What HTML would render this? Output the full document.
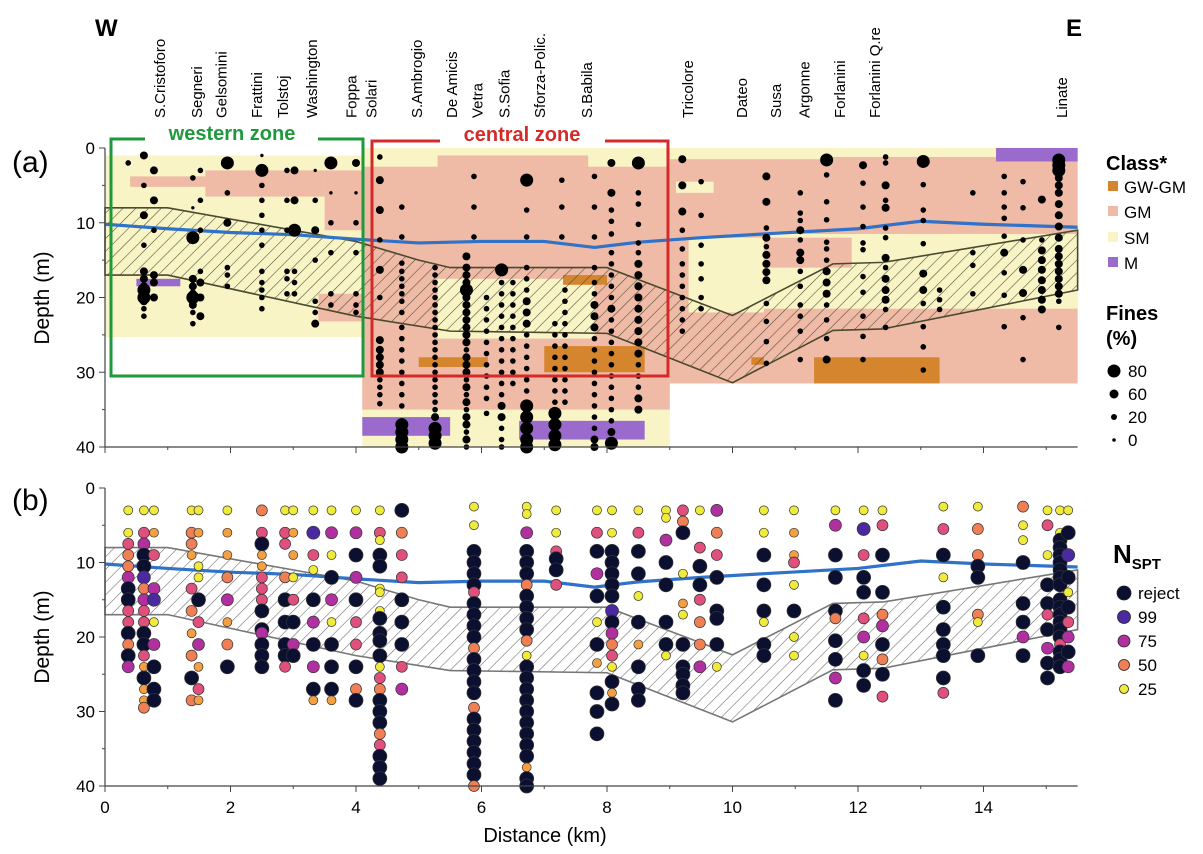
<!DOCTYPE html>
<html><head><meta charset="utf-8"><style>
html,body{margin:0;padding:0;background:#fff}
svg{display:block;font-family:"Liberation Sans",sans-serif}
</style></head><body>
<svg id="fig" width="1203" height="854" viewBox="0 0 1203 854" xmlns="http://www.w3.org/2000/svg">
<defs>
<pattern id="hatchA" patternUnits="userSpaceOnUse" width="9" height="9" patternTransform="rotate(45)"><line x1="0" y1="0" x2="0" y2="9" stroke="#4a4a30" stroke-width="1.1"/></pattern>
<pattern id="hatchB" patternUnits="userSpaceOnUse" width="9" height="9" patternTransform="rotate(45)"><line x1="0" y1="0" x2="0" y2="9" stroke="#666" stroke-width="1.1"/></pattern>
</defs>
<g id="layersA"></g>
<g id="hatchGA"></g>
<g id="wtA"></g>
<g id="ptsA"></g>
<g id="hatchGB"></g>
<g id="wtB"></g>
<g id="ptsB"></g>
<g id="axes"></g>
<g id="stations"></g>

<text x="95" y="36" font-size="24" font-weight="bold">W</text>
<text x="1066" y="36" font-size="24" font-weight="bold">E</text>
<text x="12" y="172" font-size="30">(a)</text>
<text x="12" y="510" font-size="30">(b)</text>
<text transform="translate(49,298) rotate(-90)" text-anchor="middle" font-size="21">Depth (m)</text>
<text transform="translate(49,637) rotate(-90)" text-anchor="middle" font-size="21">Depth (m)</text>
<text x="545" y="842" text-anchor="middle" font-size="20">Distance (km)</text>

<g>
<path d="M145,139 L111,139 L111,376 L363,376 L363,139 L318,139" fill="none" stroke="#1e9a3c" stroke-width="3"/>
<text x="232" y="140" text-anchor="middle" font-size="20" font-weight="bold" fill="#1e9a3c">western zone</text>
</g>
<g>
<path d="M440,141 L372,141 L372,376 L668,376 L668,141 L605,141" fill="none" stroke="#d52a2a" stroke-width="3"/>
<text x="522" y="141" text-anchor="middle" font-size="20" font-weight="bold" fill="#d52a2a">central zone</text>
</g>

<g>
<text x="1106" y="170" font-size="20" font-weight="bold">Class*</text>
<rect x="1108" y="181" width="10" height="10" fill="#d5852d"/><text x="1124" y="193" font-size="17">GW-GM</text>
<rect x="1108" y="206" width="10" height="10" fill="#efbaa6"/><text x="1124" y="218" font-size="17">GM</text>
<rect x="1108" y="232" width="10" height="10" fill="#f8f4c6"/><text x="1124" y="244" font-size="17">SM</text>
<rect x="1108" y="257" width="10" height="10" fill="#9a6bcc"/><text x="1124" y="269" font-size="17">M</text>
<text x="1106" y="320" font-size="20" font-weight="bold">Fines</text>
<text x="1106" y="345" font-size="20" font-weight="bold">(%)</text>
<circle cx="1114" cy="371" r="6.5" fill="#000"/><text x="1128" y="377" font-size="17">80</text>
<circle cx="1114" cy="394" r="4.5" fill="#000"/><text x="1128" y="400" font-size="17">60</text>
<circle cx="1114" cy="417" r="3" fill="#000"/><text x="1128" y="423" font-size="17">20</text>
<circle cx="1114" cy="440" r="1.8" fill="#000"/><text x="1128" y="446" font-size="17">0</text>
</g>
<g>
<text x="1113" y="563" font-size="26" font-weight="bold">N<tspan font-size="15" dy="6">SPT</tspan></text>
<circle cx="1124" cy="593" r="7" fill="#0c1030" stroke="#222" stroke-width="0.8"/><text x="1138" y="599" font-size="17">reject</text>
<circle cx="1124" cy="617" r="6.5" fill="#4b2aa0" stroke="#222" stroke-width="0.8"/><text x="1138" y="623" font-size="17">99</text>
<circle cx="1124" cy="641" r="6" fill="#b0309f" stroke="#222" stroke-width="0.8"/><text x="1138" y="647" font-size="17">75</text>
<circle cx="1124" cy="665" r="5.5" fill="#ef7f55" stroke="#222" stroke-width="0.8"/><text x="1138" y="671" font-size="17">50</text>
<circle cx="1124" cy="689" r="4.5" fill="#f0ea3a" stroke="#222" stroke-width="0.8"/><text x="1138" y="695" font-size="17">25</text>
</g>
</svg>
<script>
const NS="http://www.w3.org/2000/svg";
// ---- data ----
const xTicks=[0,2,4,6,8,10,12,14];
const yTicks=[0,10,20,30,40];
const stationNames=["S.Cristoforo","Segneri","Gelsomini","Frattini","Tolstoj","Washington","Foppa","Solari","S.Ambrogio","De Amicis","Vetra","S.Sofia","Sforza-Polic.","S.Babila","Tricolore","Dateo","Susa","Argonne","Forlanini","Forlanini Q.re","Linate"];
const stationKm=[0.88,1.47,1.86,2.42,2.84,3.3,3.93,4.25,4.97,5.53,5.94,6.37,6.93,7.68,9.29,10.15,10.69,11.15,11.71,12.27,15.25];
const layers=[
[0,4.1,1,25.3,"SM"],[0.4,1.6,3.8,5.2,"GM"],[1.6,3.5,3,6.5,"GM"],[3.5,4.1,3,11,"GM"],[3.4,4.1,19.5,23.2,"GM"],[0.5,1.2,17.5,18.5,"M"],
[4.1,9.0,0,40,"SM"],[4.1,9.0,2.5,35,"GM"],[5.3,7.7,1,3,"GM"],[5.3,7.8,17.5,25.5,"SM"],[4.1,5.5,36,38.5,"M"],[6.6,8.6,36.5,39,"M"],
[5.0,6.1,28,29.3,"GW"],[7.0,8.6,26.5,30,"GW"],[7.3,8.0,17,18.3,"GW"],
[9,15.5,0,31.5,"GM"],[9,11.5,0,1.5,"SM"],[9.1,9.7,4.5,6,"SM"],[9.3,10.5,12,22,"SM"],[10.5,15.5,11.5,21.5,"SM"],[10.5,11.9,12,16,"GM"],[11.5,14.2,0,1.2,"SM"],[14.2,15.5,0,1.8,"M"],
[11.3,13.3,28,31.5,"GW"],[10.3,10.5,28,29,"GW"]];
const hatchTopKm=[0,1,4,5,5.5,8,10,11.6,12.4,15.5];
const hatchTopD=[8,8,12.5,15,16,16,22.4,15.5,15.3,11];
const hatchBotKm=[0,1,4,5.5,8,10,11.6,12.4,15.5];
const hatchBotD=[17,17,22.5,24.5,24.8,31.4,24.4,24.2,19];
const wtKm=[0,1,2,3,4,5,6,7,7.8,8.5,9.5,10.5,12,13,14,15.5];
const wtD=[10.2,10.8,11.3,11.6,12.2,12.7,12.5,12.5,13.3,12.6,12,11.5,10.8,9.8,10.2,10.6];
// panel a boreholes: km, [depth, size-class]
const boreA=[
[0.37,[[2,1]]],
[0.62,[[1,2],[5,1],[9,2],[13,1],[16.5,2],[17.5,2],[18.5,2],[19,3],[19.5,2],[20,3],[20.5,2],[21.5,1],[22.5,1]]],
[0.78,[[3,2],[7,2],[11,1],[17,2],[18,2],[20,2]]],
[1.4,[[4,1],[8,0],[12,3],[17.5,2],[18.5,2],[19.5,2],[20,3],[21,2],[22,1],[23.5,1]]],
[1.52,[[3,1],[7,1],[11,1],[16.5,1],[18,2],[20,2],[22.5,2]]],
[1.95,[[2,3],[6,1],[10,2],[16,1],[17,1],[18.5,1]]],
[2.5,[[1,0],[3,3],[5,1],[7,1],[9,1],[11,1],[13,1],[16.5,1],[18,1],[19,1],[20,1],[21.5,1]]],
[2.9,[[3,1],[7,1],[11,1],[16.5,1],[17.5,1],[19.5,1]]],
[3.02,[[3,2],[7,2],[11,3],[16.5,1],[18,1],[19.5,1]]],
[3.35,[[3,0],[7,1],[11,2],[15,1],[20.5,1],[22,1],[23.5,2]]],
[3.6,[[2,3],[6,0],[10,1],[14,1],[19.5,1],[21,1]]],
[4.0,[[2,2],[6,0],[10,1],[14,1],[19.5,1],[21,1],[22,1]]],
[4.38,[[1.2,1],[4.3,2],[8.3,2],[12.3,1],[16.3,2],[20,1],[25.7,2],[27,2],[28,2],[29,2],[30,2],[31,1],[32,1],[33,1],[34.2,1]]],
[4.73,[[7.9,1],[11.9,1],[15.4,1],[16.5,1],[17.5,1],[18.5,1],[19.5,1],[20.5,1],[22,1],[24,1],[25.5,1],[27,1],[28.5,1],[30,1],[31.5,1],[33,1],[34.5,1],[37,3],[38,3],[39,3],[40,3]]],
[5.26,[[16,1],[17,1],[18,1],[19,1],[20,1],[21,1],[22,1],[23,1],[24,1],[25,1],[26,1],[27,1],[28,1],[29,1],[30,1],[31,1],[32,1],[33,1],[34,1],[35,1],[36,2],[37.5,3],[38.5,3],[39.5,3]]],
[5.76,[[14.5,2],[16,2],[17,2],[18,2],[19,3],[20,2],[21,2],[22,2],[23,2],[24,2],[25,2],[26,2],[27,1],[28,2],[29,2],[30,2],[31,1],[32,2],[33,1],[34,2],[35,1],[36,2],[37,2],[38,1],[39,2],[40,1]]],
[5.88,[[3.8,1],[7.9,1],[11.9,1]]],
[6.08,[[20,1],[21.5,1],[23,1],[24.5,1],[26,1],[27.5,1],[29,1],[30.5,1],[32,1],[33.5,1],[35.5,1]]],
[6.32,[[16.3,3],[18,1],[19.5,1],[21,1],[22.5,1],[24,1],[25.5,1],[27,1],[28.5,1],[30,1],[31.5,1],[33,1],[34.5,2],[36,2],[37.5,1],[39,1],[40,1]]],
[6.5,[[18,1],[19.5,1],[21,1],[22.5,1],[24,1],[25.5,1],[27,1],[28.5,1],[30,1],[31.5,1]]],
[6.72,[[4.3,3],[8.3,1],[11.9,1],[16,1],[17.5,1],[19,1],[20.5,2],[22,2],[23.5,2],[25,1],[26.5,1],[28,1],[29.5,1],[31,1],[32.5,1],[34.5,3],[36,3],[37.5,3],[39,3],[40,3]]],
[7.17,[[23.5,1],[25,1],[26.5,1],[28,1],[29.5,1],[31,1],[32.5,1],[34,1],[35.5,3],[37,3],[38.5,3],[39.7,3]]],
[7.28,[[4.3,1],[7.9,1],[11.9,1]]],
[7.33,[[19,1],[20.5,1],[22,1],[23.5,1],[25,1],[26.5,1],[28,1],[29.5,1],[31,1],[32.5,1],[34,1]]],
[7.8,[[3.8,1],[7.9,1],[11.9,1],[16,1],[18,1],[19.5,1],[21,2],[22.5,2],[24,2],[25.5,1],[27,1],[28.5,1],[30,1],[31.5,1],[33,1],[34.5,1],[36,1],[37.5,1],[39,2],[40,2]]],
[8.07,[[2,2],[6,2],[8.3,1],[9.8,1],[11.5,1],[14,1],[15.5,1],[17,1],[18.5,1],[20,1],[21.5,2],[23,1],[24.5,1],[26,1],[27.5,1],[29,1],[30.5,1],[32,1],[33.5,1],[35,1],[36.5,1],[38,2],[39.5,3]]],
[8.5,[[2,3],[6,1],[7.5,1],[10.2,1],[12.7,1],[14,1],[15.5,2],[17,2],[18.5,2],[20,2],[21.5,2],[23,2],[24.5,2],[26,2],[27.5,2],[29,1],[30.5,1],[32,1],[33.5,2],[35,2]]],
[9.2,[[1.5,2],[5,2],[8.5,2],[11,1],[13.5,1],[15.5,1],[17,1],[18.5,1],[20,1],[21.5,1],[23,1],[24.5,1]]],
[9.5,[[4.5,1],[9,1],[13,1],[15.5,1],[17.5,1],[20,1],[21.5,1]]],
[10.54,[[3.8,2],[7.2,2],[10.7,1],[12,2],[13.2,1],[14.3,2],[15.5,2],[16.6,2],[17.7,2],[20.8,1],[23.2,1],[25.9,1],[28.8,1]]],
[11.08,[[6,1],[8.7,1],[9.7,1],[11,2],[12.3,1],[14,2],[15,2],[16.5,1],[18.5,1],[21,1],[22.5,1],[24.5,1],[28.3,1]]],
[11.5,[[1.6,3],[3.6,1],[7.2,1],[9.6,1],[12.6,1],[13.5,1],[15,1],[16.5,2],[18,2],[19.5,2],[21,1],[23,1],[25.5,1],[28.3,2]]],
[12.08,[[2.3,2],[4.7,1],[7.9,1],[10.5,1],[12.7,1],[13.6,1],[17.2,1],[19.3,1],[22.5,1],[25.2,1],[28.3,1]]],
[12.44,[[1.2,1],[2,1],[5,2],[7,1],[8,2],[10.7,1],[12,1],[14.7,2],[16,1],[17.5,2],[19,2],[20.3,2],[21.6,1],[24,1]]],
[13.04,[[1.8,3],[4.9,1],[8.3,1],[9.7,1],[12.8,1],[16.8,2],[19,2],[20.8,1],[23.9,1],[26.6,1],[29.7,1]]],
[13.3,[[19,1],[20.3,1],[21.6,1]]],
[13.83,[[6,1],[14,1],[15.7,1],[19.5,1]]],
[14.33,[[3.8,1],[6,1],[7.9,1],[9.4,1],[11.8,1],[14,2],[16.7,1],[19.7,1],[23.9,1]]],
[14.63,[[4.5,1],[8,1],[12.3,1],[16.3,2],[19.4,2],[22.7,1],[28.3,1]]],
[14.93,[[6.9,2],[12.3,1],[13.7,2],[15,2],[16.3,2],[17.7,2],[19,2],[20.3,2],[21.6,2]]],
[15.2,[[1.6,3],[2.3,3],[3,3],[4,2],[5,2],[6,2],[7.5,2],[9,2],[10.5,2],[12,2],[13.5,2],[14.5,2],[15.5,2],[16.5,2],[17.5,2],[18.5,2],[19.5,2],[20.5,1],[24,1]]]
];
// panel b boreholes: km, [depth, N] ; N=0 means reject
const boreB=[
[0.37,[[3,25],[6,25],[7.5,60],[9,50],[10.5,50],[12,75],[13.5,0],[15,0],[16.5,60],[18,60],[19.5,0],[21,50],[22.5,0],[24,75]]],
[0.62,[[3,25],[6,60],[7.5,75],[9,0],[10.5,0],[12,99],[13.5,50],[15,75],[16.5,60],[18,60],[19.5,0],[21,0],[22.5,60],[24,35],[25.5,0],[27,35],[28.5,35],[29.5,50]]],
[0.78,[[3,25],[6,35],[9,60],[13.5,75],[15,99],[18,25],[21,75],[24,0],[27,0],[28.5,0]]],
[1.38,[[3,25],[6,50],[7.5,50],[9,35],[13.5,60],[16.5,50],[19.5,35],[22.5,50],[25.5,0],[28.5,50]]],
[1.49,[[3,25],[6,35],[10.5,25],[12,25],[15,0],[18,60],[21,75],[24,35],[27,60],[28.5,35]]],
[1.95,[[3,25],[6,35],[9,35],[12,50],[15,75],[18,35],[21,50],[24,0]]],
[2.5,[[3,50],[6,60],[7.5,0],[9,35],[10.5,35],[12,60],[13.5,60],[15,60],[16.5,0],[19,0],[19.5,75],[21,0],[22.5,0],[24,0]]],
[2.87,[[3,25],[6,60],[7.5,60],[12,50],[15,0],[18,0],[21,0],[22.5,0],[24,60]]],
[3.0,[[3,25],[6,35],[9,35],[12,25],[15,60],[18,0],[21,75],[22.5,0]]],
[3.32,[[3,25],[6,99],[9,60],[11,25],[15,0],[18,75],[21,0],[24,75],[27,0],[28.5,35]]],
[3.61,[[3,25],[6,75],[9,25],[12,0],[15,75],[18,25],[21,0],[24,0],[27,0],[28.5,35]]],
[4.0,[[3,25],[6,75],[9,0],[12,75],[15,0],[18,60],[21,60],[24,0],[27,50],[28.5,0]]],
[4.38,[[3,25],[6,60],[7,25],[9,0],[10.5,0],[13.5,25],[14,25],[16.5,25],[17.5,0],[19.5,0],[20.5,0],[22.5,0],[24,25],[25.5,60],[27,50],[28.5,0],[30,0],[31.5,0],[33,50],[34.5,60],[36,0],[37.5,0],[39,0]]],
[4.73,[[3,0],[6,50],[9,60],[12,60],[15,0],[18,0],[21,0],[24,60],[27,75]]],
[5.88,[[2.5,25],[5,25],[8.5,0],[10,0],[11.5,0],[13,0],[14,60],[15.5,0],[17,0],[18.5,0],[20,0],[21.5,50],[23,0],[24.5,0],[26,0],[27.5,0],[29.5,50],[31,0],[32.5,0],[34,0],[35.5,0],[37,0],[38.5,0],[40,50]]],
[6.72,[[2.5,25],[3.5,25],[6,75],[8.5,0],[10,0],[11.5,0],[13,50],[14.5,0],[16,0],[17.5,0],[19,0],[20.5,50],[22.5,25],[24,0],[25.5,0],[27,0],[28.5,0],[30,0],[31.5,0],[33,0],[34.5,0],[36,0],[37.5,35],[39,0],[40,0]]],
[7.19,[[3,25],[6,25],[8.5,60],[9.5,0],[11,0],[13,60]]],
[7.84,[[3,25],[6,60],[8.5,0],[11.5,75],[14.5,0],[18,25],[21,0],[23.5,35],[27.5,0],[30,0],[33,0]]],
[8.08,[[3,25],[6,25],[8.5,0],[10,0],[11.5,0],[13,0],[14.5,0],[16.5,99],[18,0],[19.5,75],[21,50],[22.5,60],[24,25],[26,0],[27.5,35],[29,0]]],
[8.5,[[3,25],[6,60],[8.5,0],[11.5,0],[14.5,25],[18,0],[21,35],[24,0],[27,0],[28.5,0]]],
[8.94,[[3,25],[4,25],[7,75],[10,0],[13,0],[18,0],[21,0],[22.5,25]]],
[9.21,[[3,60],[4.5,50],[6,0],[11.5,25],[15.5,35],[17,25],[21,0],[24,0],[25,0],[26.5,0],[27.5,0]]],
[9.48,[[3,25],[8,60],[10.5,0],[13,0],[15,60],[18,50],[21,50],[24,75]]],
[9.75,[[3,75],[6,50],[9,60],[12,0],[16.5,0],[17.5,0],[21,0],[24,25]]],
[10.5,[[3,25],[6,25],[9,0],[13,0],[16.5,0],[18,25],[21,0],[22.5,0]]],
[10.98,[[3,25],[6,35],[9,35],[10,60],[13,25],[16.5,0],[20,25],[22.5,25]]],
[11.64,[[3,25],[5,75],[9,0],[12,0],[16.5,0],[17.5,50],[20.5,0],[23,0],[25.5,75],[28.5,0]]],
[12.09,[[3,25],[5.5,99],[9,60],[12,0],[14,0],[17.5,60],[20,75],[22.5,25],[24.5,0],[26.5,0]]],
[12.39,[[3,25],[5,60],[9,0],[14,0],[17,50],[18.5,75],[21,0],[23,50],[25,0],[28,60]]],
[13.36,[[2.5,25],[5.5,60],[9,0],[12,25],[16,0],[19,0],[21,0],[22.5,0],[25.5,0],[27.5,60]]],
[13.91,[[2.5,25],[5.5,50],[9,50],[10.5,0],[12,0],[17,50],[18,25],[22.5,0]]],
[14.63,[[2.5,50],[5,25],[7,25],[10,0],[15.5,0],[18,0],[20,75],[22.5,0]]],
[15.02,[[3,25],[5,60],[9,25],[13,0],[15.5,0],[17,60],[19,0],[21.5,75],[23.5,0],[25.5,0]]],
[15.22,[[3,25],[6,25],[7,0],[8,0],[9,0],[10,0],[11,0],[12,0],[13,0],[15,0],[16,0],[17,0],[18,0],[19,0],[20,0],[21,60],[22,0],[23,0],[24,0]]],
[15.35,[[3,25],[6,0],[9,99],[12,0],[14,25],[16,0],[18,60],[20,75],[22,0],[24,75]]]
];
// ---- scales ----
const X=km=>105+62.75*km;
const YA=d=>148+7.475*d;
const YB=d=>488+7.45*d;
const classColor={SM:"#f8f4c6",GM:"#efbaa6",GW:"#d5852d",M:"#9a6bcc"};
const sizeR=[1.7,2.8,4,6.5];
function nColor(n){if(n===0)return"#0c1030";if(n>=99)return"#4b2aa0";if(n>=75)return"#b0309f";if(n>=60)return"#e0507c";if(n>=50)return"#ef7f55";if(n>=35)return"#f5a040";return"#f0ea3a";}
function nR(n){if(n===0)return 7;if(n>=99)return 6.5;if(n>=75)return 6;if(n>=50)return 5.5;return 4.5;}
function mk(tag,attrs,parent){const e=document.createElementNS(NS,tag);for(const k in attrs)e.setAttribute(k,attrs[k]);parent.appendChild(e);return e;}

// layers
const gL=document.getElementById("layersA");
layers.forEach(l=>{
 const r=mk("rect",{x:X(l[0]),y:YA(l[2]),width:X(l[1])-X(l[0]),height:YA(l[3])-YA(l[2]),fill:classColor[l[4]]},gL);
 
 
});
// hatch
function hatchPath(Y){
 let d="M"+hatchTopKm.map((k,i)=>X(k)+","+Y(hatchTopD[i])).join(" L");
 for(let i=hatchBotKm.length-1;i>=0;i--)d+=" L"+X(hatchBotKm[i])+","+Y(hatchBotD[i]);
 return d+" Z";
}
[["hatchGA",YA,"url(#hatchA)","#4a4a30"],["hatchGB",YB,"url(#hatchB)","#777"]].forEach(h=>{
 const p=mk("path",{d:hatchPath(h[1]),fill:h[2],stroke:h[3],"stroke-width":1.6},document.getElementById(h[0]));
 
 
});
// water table
[["wtA",YA],["wtB",YB]].forEach(w=>{
 const p=mk("polyline",{points:wtKm.map((k,i)=>X(k)+","+w[1](wtD[i])).join(" "),fill:"none",stroke:"#2f72c8","stroke-width":3.2},document.getElementById(w[0]));
 
 
});
// points a
const gA=document.getElementById("ptsA");
boreA.forEach(b=>b[1].forEach(p=>{
 const c=mk("circle",{cx:X(b[0]),cy:YA(p[0]),r:sizeR[p[1]],fill:"#000"},gA);
 
 
}));
// points b
const gB=document.getElementById("ptsB");
boreB.forEach(b=>b[1].forEach(p=>{
 const c=mk("circle",{cx:X(b[0]),cy:YB(p[0]),r:nR(p[1]),fill:nColor(p[1]),stroke:"#333","stroke-width":0.7},gB);
 
 
}));
// axes
const gX=document.getElementById("axes");
[[YA,false],[YB,true]].forEach(a=>{
 const Y=a[0];
 mk("line",{x1:105,y1:Y(0),x2:105,y2:Y(40),stroke:"#444","stroke-width":1.2},gX);
 mk("line",{x1:105,y1:Y(40),x2:X(15.5),y2:Y(40),stroke:"#444","stroke-width":1.2},gX);
 yTicks.forEach(t=>{
  mk("line",{x1:99,y1:Y(t),x2:105,y2:Y(t),stroke:"#444"},gX);
  const tx=mk("text",{x:95,y:Y(t)+6,"text-anchor":"end","font-size":17},gX);tx.textContent=t;
  
  
  if(t<40)mk("line",{x1:102,y1:Y(t+5),x2:105,y2:Y(t+5),stroke:"#444"},gX);
 });
 xTicks.forEach(t=>{
  mk("line",{x1:X(t),y1:Y(40),x2:X(t),y2:Y(40)+6,stroke:"#444"},gX);
  mk("line",{x1:X(t+1),y1:Y(40),x2:X(t+1),y2:Y(40)+3,stroke:"#444"},gX);
  if(a[1]){const tx=mk("text",{x:X(t),y:Y(40)+27,"text-anchor":"middle","font-size":17},gX);tx.textContent=t;
   
   }
 });
});
// stations
const gS=document.getElementById("stations");
stationNames.forEach((n,i)=>{
 const x=X(stationKm[i])+5;
 const t=mk("text",{transform:"translate("+x+",118) rotate(-90)","font-size":15},gS);
 t.textContent=n;
 
 
});
</script>
</body></html>
